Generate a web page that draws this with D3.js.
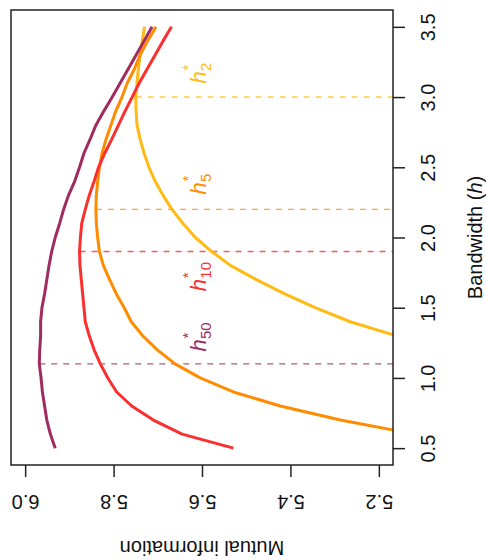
<!DOCTYPE html>
<html>
<head>
<meta charset="utf-8">
<script src="https://cdn.jsdelivr.net/npm/d3@7"></script>
<style>
body { margin: 0; background: #fff; }
svg { display: block; font-family: "Liberation Sans", Arial, sans-serif; }
</style>
</head>
<body>
<div id="chart"></div>
<script>
// bandwidth grid (h) and mutual information for each sample size
const bandwidth = [0.5, 0.6, 0.7, 0.8, 0.9, 1.0, 1.1, 1.2, 1.3, 1.4, 1.5, 1.6, 1.7, 1.8, 1.9, 2.0,
    2.1, 2.2, 2.3, 2.4, 2.5, 2.6, 2.7, 2.8, 2.9, 3.0, 3.1, 3.2, 3.3, 3.4, 3.5];
const mi50 = [5.932, 5.943, 5.951, 5.956, 5.961, 5.964, 5.968, 5.967, 5.965, 5.965, 5.962, 5.956,
    5.951, 5.946, 5.940, 5.932, 5.922, 5.913, 5.902, 5.888, 5.877, 5.867, 5.853, 5.840, 5.822,
    5.803, 5.785, 5.767, 5.749, 5.731, 5.713];
const mi10 = [5.529, 5.645, 5.710, 5.759, 5.793, 5.813, 5.830, 5.844, 5.855, 5.864, 5.867, 5.870,
    5.873, 5.876, 5.877, 5.875, 5.872, 5.864, 5.855, 5.844, 5.834, 5.820, 5.804, 5.789, 5.774,
    5.758, 5.742, 5.724, 5.706, 5.688, 5.669];
const mi5 = [null, 5.118, 5.287, 5.423, 5.529, 5.604, 5.661, 5.701, 5.734, 5.760, 5.776, 5.794,
    5.809, 5.823, 5.832, 5.836, 5.839, 5.840, 5.839, 5.836, 5.832, 5.826, 5.817, 5.806, 5.795,
    5.781, 5.769, 5.753, 5.740, 5.723, 5.704];
const mi2 = [null, null, null, null, null, null, null, null, 5.160, 5.265, 5.344, 5.414,
    5.477, 5.535, 5.578, 5.615, 5.643, 5.668, 5.688, 5.706, 5.720, 5.731, 5.740, 5.747, 5.749,
    5.750, 5.747, 5.744, 5.740, 5.735, 5.730];

const sampleSizes = ['50', '10', '5', '2'];
const colors = ['#a02b5f', '#f9302f', '#ff8c00', '#ffba14'];
const hStar = [1.1, 1.9, 2.2, 3.0];
const labelH = [1.29, 1.72, 2.38, 3.17];
const labelMI = 5.61;

const miTicks = [6.0, 5.8, 5.6, 5.4, 5.2];
const bwTicks = [0.5, 1.0, 1.5, 2.0, 2.5, 3.0, 3.5];

const width = 486, height = 560;
const box = {left: 11, right: 393, top: 10, bottom: 465};

// the R plot is turned a quarter turn: MI runs along x (decreasing), h along y (increasing upwards)
const x = d3.scaleLinear().domain([6.032, 5.168]).range([box.left, box.right]);
const y = d3.scaleLinear().domain([0.38, 3.62]).range([box.bottom, box.top]);

const series = [mi50, mi10, mi5, mi2].map((values, i) => ({
    n: sampleSizes[i],
    color: colors[i],
    hStar: hStar[i],
    labelH: labelH[i],
    points: bandwidth.map((h, j) => ({h: h, mi: values[j]}))
}));

const svg = d3.select('#chart')
    .append('svg')
    .attr('width', width)
    .attr('height', height);

svg.append('defs').append('clipPath')
    .attr('id', 'plot-clip')
    .append('rect')
    .attr('x', box.left)
    .attr('y', box.top)
    .attr('width', box.right - box.left)
    .attr('height', box.bottom - box.top);

const plot = svg.append('g').attr('clip-path', 'url(#plot-clip)');

// dashed lines from each maximum down to the low-MI edge
series.forEach(s => {
    const top = s.points.find(p => Math.abs(p.h - s.hStar) < 1e-9);
    plot.append('line')
        .attr('x1', x(top.mi))
        .attr('x2', x(x.domain()[1]))
        .attr('y1', y(s.hStar))
        .attr('y2', y(s.hStar))
        .attr('stroke', s.color)
        .attr('stroke-opacity', 0.8)
        .attr('stroke-width', 1.4)
        .attr('stroke-dasharray', '6,6');
});

const line = d3.line()
    .defined(d => d.mi != null)
    .x(d => x(d.mi))
    .y(d => y(d.h));

series.slice().reverse().forEach(s => {
    plot.append('path')
        .datum(s.points)
        .attr('fill', 'none')
        .attr('stroke', s.color)
        .attr('stroke-width', 3)
        .attr('stroke-linejoin', 'round')
        .attr('d', line);
});

// h*_n labels
series.forEach(s => {
    const g = svg.append('g')
        .attr('transform', 'translate(' + x(labelMI) + ',' + y(s.labelH) + ') rotate(-90)')
        .attr('fill', s.color);
    const w = 12.2 + s.n.length * 8.3;
    const x0 = -w / 2;
    g.append('text')
        .attr('x', x0)
        .attr('y', 8)
        .attr('font-size', 22)
        .attr('font-style', 'italic')
        .text('h');
    g.append('text')
        .attr('x', x0 + 12.5)
        .attr('y', 13)
        .attr('font-size', 15)
        .text(s.n);
    g.append('text')
        .attr('x', x0 + 13)
        .attr('y', -5)
        .attr('font-size', 15)
        .text('*');
});

// frame
svg.append('rect')
    .attr('x', box.left)
    .attr('y', box.top)
    .attr('width', box.right - box.left)
    .attr('height', box.bottom - box.top)
    .attr('fill', 'none')
    .attr('stroke', '#222')
    .attr('stroke-width', 1.5);

// bandwidth axis (right)
svg.append('g')
    .attr('transform', 'translate(' + box.right + ',0)')
    .call(d3.axisRight(y).tickValues(bwTicks).tickSize(12).tickFormat(d3.format('.1f')))
    .call(g => g.select('.domain').remove())
    .call(g => g.selectAll('.tick line').attr('stroke', '#222').attr('stroke-width', 1.5))
    .call(g => g.selectAll('.tick text')
        .attr('x', null)
        .attr('dy', null)
        .attr('fill', '#111')
        .attr('font-size', 20)
        .attr('font-family', '"Liberation Sans", Arial, sans-serif')
        .attr('text-anchor', 'middle')
        .attr('dominant-baseline', 'central')
        .attr('transform', 'translate(34.5,0) rotate(-90)'));

// mutual information axis (bottom, upside down)
svg.append('g')
    .attr('transform', 'translate(0,' + box.bottom + ')')
    .call(d3.axisBottom(x).tickValues(miTicks).tickSize(12).tickFormat(d3.format('.1f')))
    .call(g => g.select('.domain').remove())
    .call(g => g.selectAll('.tick line').attr('stroke', '#222').attr('stroke-width', 1.5))
    .call(g => g.selectAll('.tick text')
        .attr('y', null)
        .attr('dy', null)
        .attr('fill', '#111')
        .attr('font-size', 20)
        .attr('font-family', '"Liberation Sans", Arial, sans-serif')
        .attr('text-anchor', 'middle')
        .attr('dominant-baseline', 'central')
        .attr('transform', 'translate(0,36.7) rotate(180)'));

// axis titles
svg.append('text')
    .attr('transform', 'translate(' + ((box.left + box.right) / 2) + ',548) rotate(180)')
    .attr('text-anchor', 'middle')
    .attr('dominant-baseline', 'central')
    .attr('font-size', 20)
    .attr('fill', '#111')
    .text('Mutual information');

const bwTitle = svg.append('text')
    .attr('transform', 'translate(475,' + ((box.top + box.bottom) / 2) + ') rotate(-90)')
    .attr('text-anchor', 'middle')
    .attr('dominant-baseline', 'central')
    .attr('font-size', 20)
    .attr('fill', '#111');
bwTitle.append('tspan').text('Bandwidth (');
bwTitle.append('tspan').attr('font-style', 'italic').text('h');
bwTitle.append('tspan').text(')');
</script>
</body>
</html>
